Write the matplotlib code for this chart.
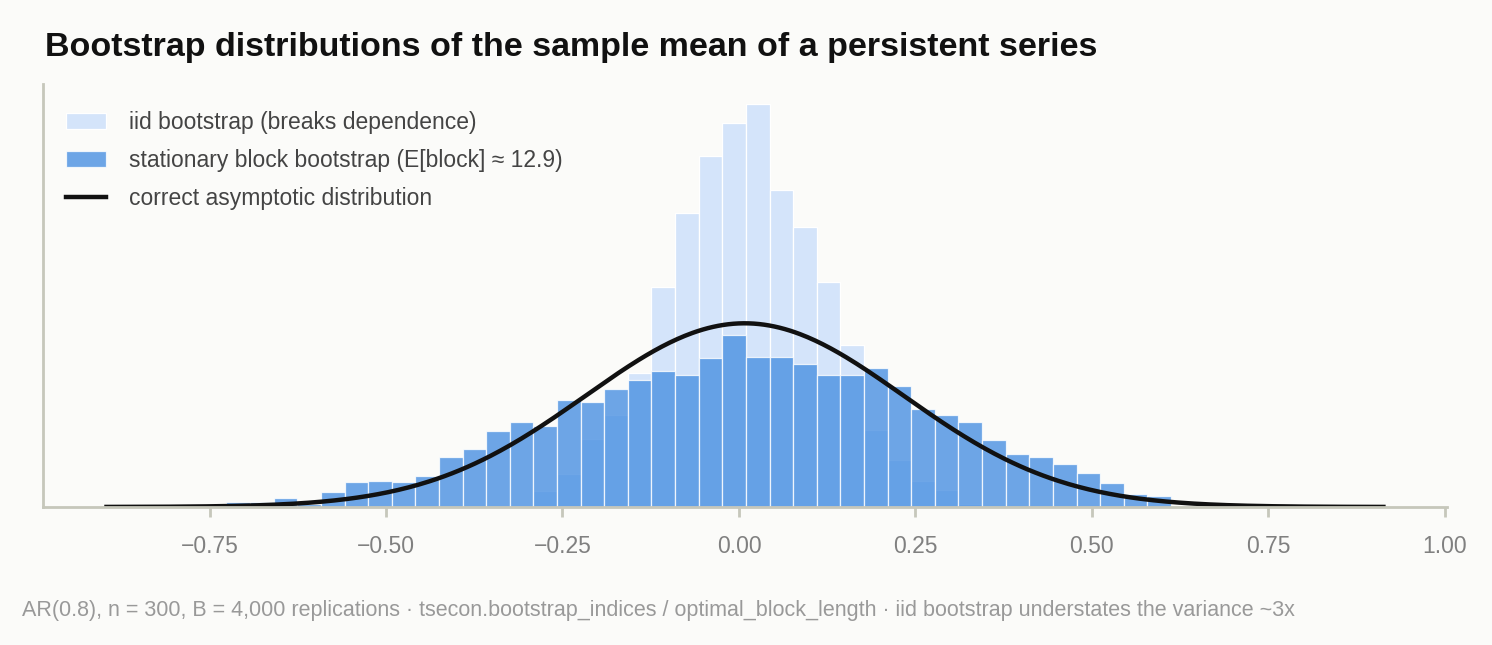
import matplotlib.pyplot as plt
import numpy as np

plt.rcParams['font.family'] = ['Liberation Sans', 'DejaVu Sans']

# histogram bins shared by both bootstrap runs
bin_lo = -0.726
bin_hi = 0.612
n_bins = 40

# density heights, left to right
block_density = [0.05, 0.05, 0.09, 0.03, 0.14, 0.24, 0.25, 0.24, 0.30, 0.48,
                 0.56, 0.73, 0.82, 0.78, 1.03, 1.01, 1.14, 1.23, 1.31, 1.27,
                 1.44, 1.66, 1.45, 1.45, 1.38, 1.27, 1.27, 1.34, 1.17, 0.95,
                 0.89, 0.82, 0.65, 0.51, 0.48, 0.41, 0.33, 0.23, 0.13, 0.11]
iid_density = [0, 0, 0, 0, 0, 0, 0, 0, 0, 0,
               0, 0, 0.01, 0.15, 0.32, 0.66, 0.89, 1.29, 2.12, 2.84,
               3.39, 3.71, 3.89, 3.06, 2.70, 2.17, 1.56, 0.74, 0.45, 0.25,
               0.16, 0.03, 0, 0, 0, 0, 0, 0, 0, 0]

# asymptotic normal
asym_mean = 0.008
asym_sd = 0.225
curve_lo = -0.896
curve_hi = 0.913

xticks = [-0.75, -0.50, -0.25, 0.00, 0.25, 0.50, 0.75, 1.00]

bg = '#fbfbf9'
axis_col = '#c6c7bb'

edges = np.linspace(bin_lo, bin_hi, n_bins + 1)
width = edges[1] - edges[0]
centers = edges[:-1] + width / 2

fig = plt.figure(figsize=(14.92, 6.45), dpi=100, facecolor=bg)
ax = fig.add_axes([0.0288, 0.214, 0.941, 0.656])
ax.set_facecolor(bg)

h_iid = ax.bar(centers, iid_density, width=width, color='#d4e4fa', edgecolor='white',
               linewidth=0.9, label='iid bootstrap (breaks dependence)')
h_blk = ax.bar(centers, block_density, width=width, color='#4a90e2', alpha=0.8,
               edgecolor='white', linewidth=0.9,
               label='stationary block bootstrap (E[block] \u2248 12.9)')

xs = np.linspace(curve_lo, curve_hi, 500)
pdf = np.exp(-0.5 * ((xs - asym_mean) / asym_sd) ** 2) / (asym_sd * np.sqrt(2 * np.pi))
h_line, = ax.plot(xs, pdf, color='#111111', lw=3.2, label='correct asymptotic distribution')

ax.set_xlim(-0.986, 1.003)
ax.set_ylim(0, max(iid_density) * 1.05)
ax.set_xticks(xticks)
ax.set_xticklabels([f'{t:.2f}'.replace('-', '\u2212') for t in xticks])
ax.set_yticks([])

for s in ['top', 'right']:
    ax.spines[s].set_visible(False)
for s in ['left', 'bottom']:
    ax.spines[s].set_color(axis_col)
    ax.spines[s].set_linewidth(2)
ax.tick_params(axis='x', colors=axis_col, length=7, width=2, pad=13,
               labelsize=16.5, labelcolor='#808080')

leg = ax.legend(handles=[h_iid, h_blk, h_line], loc='upper left',
                bbox_to_anchor=(0.0164, 0.936), frameon=False, borderaxespad=0,
                borderpad=0, fontsize=16.5, handlelength=1.75, handleheight=0.75,
                handletextpad=1.0, labelspacing=0.66)
for t in leg.get_texts():
    t.set_color('#444444')

fig.text(0.030, 1 - 56 / 645, 'Bootstrap distributions of the sample mean of a persistent series',
         fontsize=24.5, fontweight='bold', color='#111111', va='baseline')
fig.text(0.0147, 1 - 616 / 645,
         'AR(0.8), n = 300, B = 4,000 replications \u00b7 tsecon.bootstrap_indices / optimal_block_length'
         ' \u00b7 iid bootstrap understates the variance ~3x',
         fontsize=15.5, color='#999999', va='baseline')

fig.savefig('out.png', dpi=100, facecolor=bg)
